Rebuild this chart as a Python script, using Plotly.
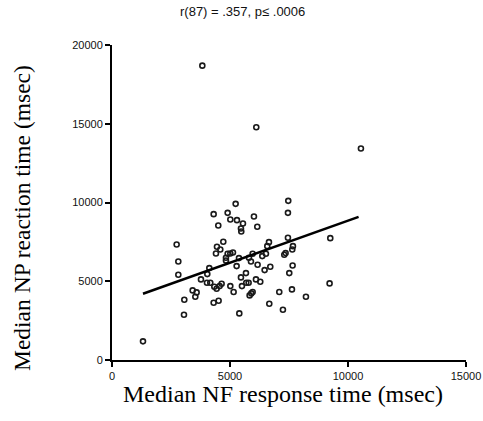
import plotly.graph_objects as go

# Median NF response time (msec)
nf_x = [1313, 2739, 2810, 2810, 3064, 3050, 3417, 3586, 3530, 3770, 3827, 4038, 4123, 4024,
        4165, 4307, 4307, 4518, 4335, 4433, 4561, 4645, 4504, 4716, 4448, 4589, 4405, 4829,
        4829, 4900, 5013, 5126, 4900, 5013, 5239, 5295, 5549, 5464, 5478, 5013, 5154, 5281,
        5380, 5464, 5506, 5676, 5690, 5789, 5394, 5803, 5888, 5959, 5831, 5902, 5959, 6015,
        6156, 6114, 6100, 6170, 6283, 6368, 6467, 6523, 6580, 6651, 6707, 6665, 7088, 7243,
        7300, 7356, 7455, 7512, 7469, 7455, 7667, 7639, 7653, 7625, 8218, 9249, 9220, 10548]
# Median NP reaction time (msec)
np_y = [1184, 7336, 6257, 5412, 3826, 2875, 4418, 4291, 4017, 5116, 18688, 5454, 5835, 4904,
        4904, 9259, 3636, 3763, 4651, 4524, 4693, 4841, 8541, 7505, 7188, 7018, 6765, 6490,
        6321, 6744, 6765, 6828, 9344, 8921, 9915, 8879, 8667, 8350, 8160, 4693, 4313, 5961,
        6469, 5243, 4693, 5518, 4904, 4904, 2960, 6490, 6257, 6744, 4101, 4228, 4313, 9111,
        8456, 14777, 5116, 6046, 4968, 6596, 5708, 6744, 7230, 7484, 5919, 3573, 4313, 3192,
        6680, 6786, 7758, 5518, 10105, 9344, 7230, 7018, 6004, 4482, 4017, 7737, 4862, 13424]

# Regression line (as drawn)
fit_x = [1313, 10449]
fit_y = [4207, 9090]

x_ticks = [0, 5000, 10000, 15000]
y_ticks = [0, 5000, 10000, 15000, 20000]

title_text = "r(87) = .357, p\u2264 .0006"
x_title = "Median NF response time (msec)"
y_title = "Median NP reaction time (msec)"

fig = go.Figure()
fig.add_trace(go.Scatter(x=nf_x, y=np_y, mode="markers",
                         marker=dict(symbol="circle-open", size=5, color="#1a1a1a",
                                     line=dict(width=1.6, color="#1a1a1a")),
                         showlegend=False))
fig.add_trace(go.Scatter(x=fit_x, y=fit_y, mode="lines",
                         line=dict(color="black", width=2.5), showlegend=False))

axis_common = dict(showgrid=False, zeroline=False, showline=True, linecolor="black",
                   linewidth=2, ticks="outside", ticklen=5, tickwidth=2, tickcolor="black",
                   automargin=False,
                   tickfont=dict(family="Liberation Sans, Arial", size=11, color="#111"))

fig.update_xaxes(range=[0, 15000], tickvals=x_ticks, ticktext=[str(v) for v in x_ticks],
                 **axis_common)
fig.update_yaxes(range=[0, 20000], tickvals=y_ticks, ticktext=[str(v) for v in y_ticks],
                 **axis_common)

L, R, T, B = 112, 17, 45, 61
fig.update_layout(
    width=483, height=421,
    margin=dict(l=L, r=R, t=T, b=B, autoexpand=False),
    plot_bgcolor="white", paper_bgcolor="white",
    hovermode=False,
)
pw = 483 - L - R
ph = 421 - T - B
def px(xp):
    return (xp - L) / pw
def py(yp):
    return (421 - B - yp) / ph

fig.add_annotation(text=title_text, x=px(242), y=py(12), xref="paper", yref="paper",
                   showarrow=False, xanchor="center", yanchor="middle",
                   font=dict(family="Liberation Sans, Arial", size=13, color="#111"))
fig.add_annotation(text=x_title, x=px(283), y=py(394), xref="paper", yref="paper",
                   showarrow=False, xanchor="center", yanchor="middle",
                   font=dict(family="Liberation Serif, Times New Roman", size=24, color="black"))
fig.add_annotation(text=y_title, x=px(22), y=py(218), xref="paper", yref="paper",
                   showarrow=False, xanchor="center", yanchor="middle", textangle=-90,
                   font=dict(family="Liberation Serif, Times New Roman", size=23.5, color="black"))

fig.write_html("out.html", config={"displayModeBar": False},
               post_script="document.body.style.margin='0px';document.body.style.padding='0px';")
